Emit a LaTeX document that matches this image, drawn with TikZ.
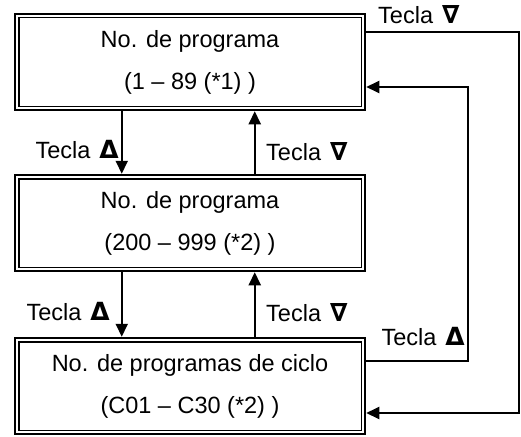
\documentclass[tikz,border=0pt]{standalone}
\usepackage{fontspec}
\setmainfont{Liberation Sans}
\newfontfamily\trifont{DejaVu Sans Bold}
\usetikzlibrary{arrows.meta,calc,positioning}
\newcommand{\teclaup}{Tecla\hspace{9pt}{\trifont\fontsize{25}{25}\selectfont Δ}}
\newcommand{\tecladown}{Tecla\hspace{9pt}{\trifont\fontsize{25}{25}\selectfont ∇}}
\tikzset{
  progbox/.style={draw,rectangle,line width=2.5pt,minimum width=350pt,minimum height=96pt,
    inner sep=0pt,align=center,font=\fontsize{23.5}{42}\selectfont},
  innerframe/.style={line width=1.5pt},
  keylabel/.style={inner sep=0pt,font=\fontsize{23.5}{26}\selectfont},
  flow/.style={-{Triangle[length=13pt,width=12pt]},line width=2pt}
}

\begin{document}
\begin{tikzpicture}[x=1pt,y=-1pt]
  \useasboundingbox (0,0) rectangle (521,436);
  \node[progbox] (p1) at (190,62) {No. de programa\\(1 -- 89 (*1) )};
  \node[progbox] (p2) at (190,223) {No. de programa\\(200 -- 999 (*2) )};
  \node[progbox] (p3) at (190,386) {No. de programas de ciclo\\(C01 -- C30 (*2) )};
  \foreach \b in {p1,p2,p3}
    \draw[innerframe] ([shift={(5,5)}]\b.north west) rectangle ([shift={(-5,-5)}]\b.south east);

  \coordinate (r1) at (519,0);
  \coordinate (r2) at (468,0);

  % up / down between the boxes
  \draw[flow] ([xshift=108pt]p1.south west) -- ([xshift=108pt]p2.north west);
  \draw[flow] ([xshift=241pt]p2.north west) -- ([xshift=241pt]p1.south west);
  \draw[flow] ([xshift=108pt]p2.south west) -- ([xshift=108pt]p3.north west);
  \draw[flow] ([xshift=241pt]p3.north west) -- ([xshift=241pt]p2.south west);

  % loops on the right
  \draw[flow] ([yshift=30pt]p1.east) -- ([yshift=30pt]p1.east -| r1)
    -- ([yshift=-27pt]p3.east -| r1) -- ([yshift=-27pt]p3.east);
  \draw[flow] ([yshift=25pt]p3.east) -- ([yshift=25pt]p3.east -| r2)
    -- ([yshift=-25pt]p1.east -| r2) -- ([yshift=-25pt]p1.east);

  \node[keylabel,anchor=east] (l1) at (119,149) {\teclaup};
  \node[keylabel,anchor=west] (l2) at (266,152) {\tecladown};
  \node[keylabel,anchor=east] (l3) at (110,311) {\teclaup};
  \node[keylabel,anchor=west] (l4) at (266,313) {\tecladown};
  \node[keylabel,anchor=west] (l5) at (378,15) {\tecladown};
  \node[keylabel,anchor=east] (l6) at (465,336) {\teclaup};
\end{tikzpicture}
\end{document}
